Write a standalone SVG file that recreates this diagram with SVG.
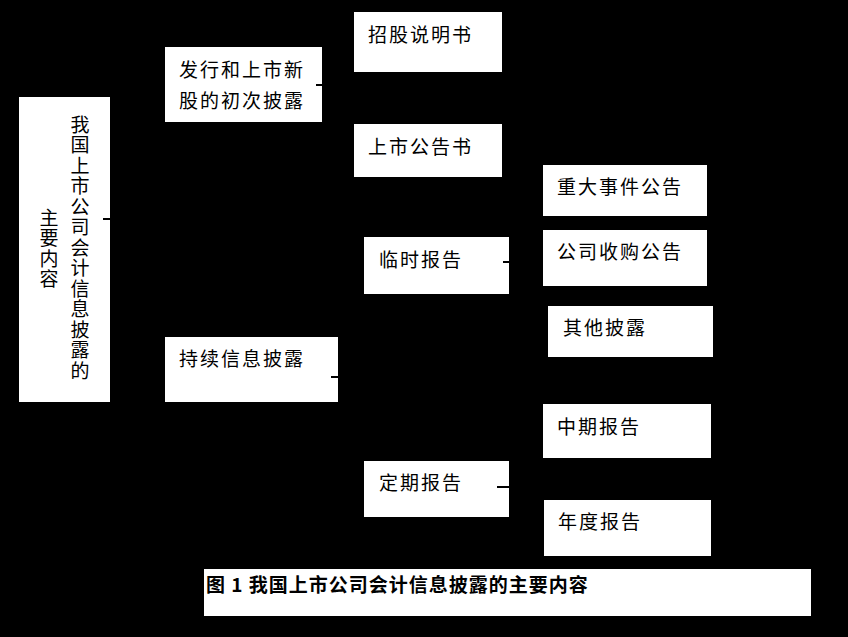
<svg xmlns="http://www.w3.org/2000/svg" width="848" height="637" viewBox="0 0 848 637">
<style>
.b{fill:#fff}
text{font-family:"Noto Sans CJK SC",sans-serif;font-size:19px;fill:#000;letter-spacing:2px}
.c{font-size:19px;letter-spacing:1px;font-weight:bold}
.t{stroke:#000;stroke-width:2}
</style>
<rect width="848" height="637" fill="#000"/>
<g id="root"><rect class="b" x="19" y="97" width="91" height="305"/>
<text x="80" y="115" style="writing-mode:vertical-rl;letter-spacing:1.5px">我国上市公司会计信息披露的</text>
<text x="49" y="208" style="writing-mode:vertical-rl;letter-spacing:1.5px">主要内容</text></g>
<g id="n1"><rect class="b" x="165" y="47" width="157" height="75"/><text x="179" y="77">发行和上市新</text><text x="179" y="108">股的初次披露</text></g>
<g id="n2"><rect class="b" x="354" y="12" width="148" height="60"/><text x="368" y="42">招股说明书</text></g>
<g id="n3"><rect class="b" x="354" y="124" width="148" height="53"/><text x="368" y="154">上市公告书</text></g>
<g id="n4"><rect class="b" x="165" y="337" width="173" height="65"/><text x="179" y="366">持续信息披露</text></g>
<g id="n5"><rect class="b" x="364" y="237" width="145" height="57"/><text x="379" y="267">临时报告</text></g>
<g id="n6"><rect class="b" x="543" y="165" width="164" height="51"/><text x="557" y="194">重大事件公告</text></g>
<g id="n7"><rect class="b" x="543" y="230" width="164" height="56"/><text x="557" y="259">公司收购公告</text></g>
<g id="n8"><rect class="b" x="548" y="306" width="165" height="51"/><text x="563" y="335">其他披露</text></g>
<g id="n9"><rect class="b" x="364" y="461" width="145" height="56"/><text x="379" y="490">定期报告</text></g>
<g id="n10"><rect class="b" x="543" y="404" width="168" height="54"/><text x="557" y="434">中期报告</text></g>
<g id="n11"><rect class="b" x="544" y="500" width="167" height="56"/><text x="558" y="529">年度报告</text></g>
<g id="caption"><rect class="b" x="204" y="569" width="607" height="47"/><text class="c" x="206" y="592">图 1 我国上市公司会计信息披露的主要内容</text></g>
<g id="connectors">
<line class="t" x1="103" y1="219" x2="110" y2="219"/>
<line class="t" x1="316" y1="85" x2="322" y2="85"/>
<line class="t" x1="331" y1="377" x2="338" y2="377"/>
<line class="t" x1="503" y1="262" x2="509" y2="262"/>
<line class="t" x1="497" y1="487" x2="509" y2="487"/>
</g>
</svg>
